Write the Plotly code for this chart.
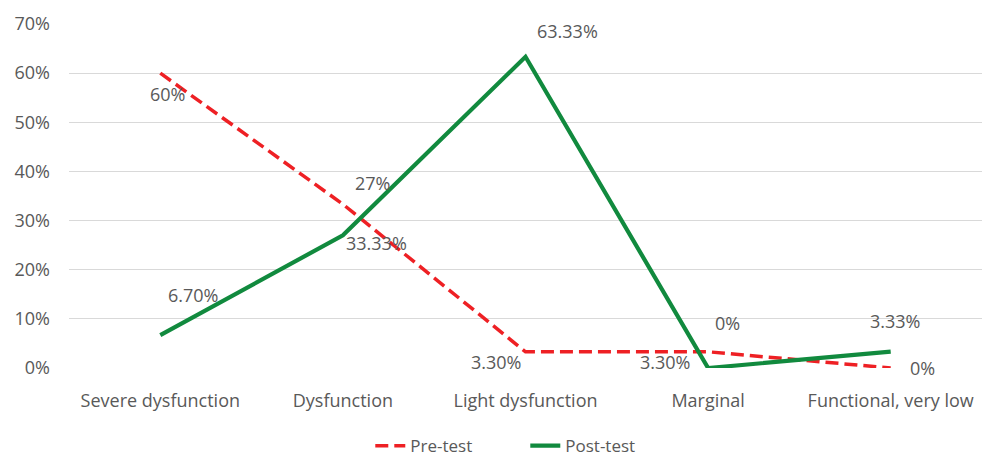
import plotly.graph_objects as go

categories = ["Severe dysfunction", "Dysfunction", "Light dysfunction", "Marginal", "Functional, very low"]
pre_test = [60, 33.33, 3.3, 3.3, 0]
post_test = [6.7, 27, 63.33, 0, 3.33]
pre_labels = ["60%", "33.33%", "3.30%", "3.30%", "0%"]
post_labels = ["6.70%", "27%", "63.33%", "0%", "3.33%"]
y_ticks = [0, 10, 20, 30, 40, 50, 60, 70]
y_tick_text = ["0%", "10%", "20%", "30%", "40%", "50%", "60%", "70%"]

# label offsets (pixels) relative to each point
pre_shift = [(7, -21), (34, -39), (-30, -10), (-43, -10), (32, 0)]
post_shift = [(33, 40), (30, 52), (42, 26), (19, 45), (4, 31)]

FONT = "Open Sans"
GRAY = "#595959"
FS = 18

fig = go.Figure()
fig.add_trace(go.Scatter(x=categories, y=pre_test, mode="lines", name="Pre-test",
                         line=dict(color="#ee2024", width=3.5, dash="13px,6px")))
fig.add_trace(go.Scatter(x=categories, y=post_test, mode="lines", name="Post-test",
                         line=dict(color="#118a3e", width=4.2)))

ann = []
for c, v, t, (dx, dy) in zip(categories, pre_test, pre_labels, pre_shift):
    ann.append(dict(x=c, y=v, text=t, showarrow=False, xshift=dx, yshift=dy,
                    font=dict(family=FONT, size=FS, color=GRAY)))
for c, v, t, (dx, dy) in zip(categories, post_test, post_labels, post_shift):
    ann.append(dict(x=c, y=v, text=t, showarrow=False, xshift=dx, yshift=dy,
                    font=dict(family=FONT, size=FS, color=GRAY)))

fig.update_layout(
    width=982, height=459,
    margin=dict(l=69, r=0, t=24, b=91, autoexpand=False),
    paper_bgcolor="white", plot_bgcolor="white",
    font=dict(family=FONT, size=FS, color=GRAY),
    annotations=ann,
    showlegend=True,
    legend=dict(orientation="h", x=0.330, xanchor="left", y=-0.227, yanchor="middle",
                font=dict(family=FONT, size=17, color=GRAY),
                entrywidth=110, entrywidthmode="pixels"),
    xaxis=dict(range=[-0.5, 4.5], showgrid=False, showline=False, zeroline=False, ticks="",
               ticklabelstandoff=20, tickfont=dict(family=FONT, size=FS, color=GRAY)),
    yaxis=dict(range=[0, 70], tickvals=y_ticks, ticktext=y_tick_text,
               showgrid=True, gridcolor="#d9d9d9", gridwidth=1.3, zeroline=False,
               showline=False, ticks="", ticklabelstandoff=18,
               tickfont=dict(family=FONT, size=FS, color=GRAY)),
)

fig.write_html("out.html", config={"displayModeBar": False},
               post_script="document.body.style.margin='0';document.body.style.overflow='hidden';")
